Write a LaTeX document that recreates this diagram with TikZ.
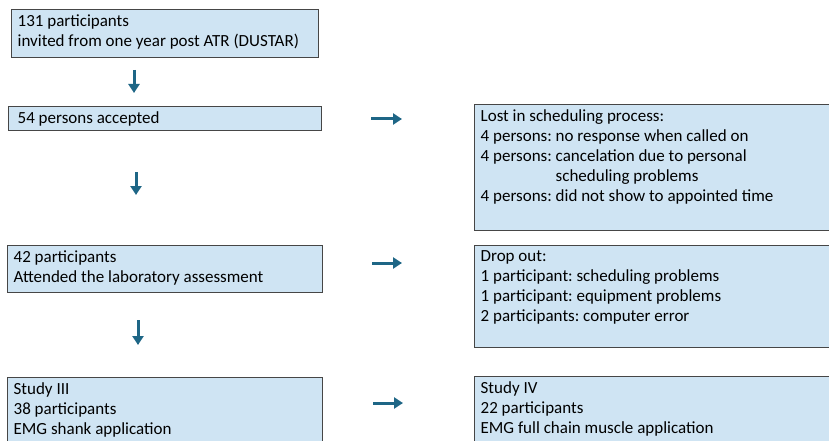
\documentclass[tikz,border=0pt]{standalone}
\usepackage{fontspec}
\setmainfont{Carlito}
\usetikzlibrary{arrows.meta,positioning}
\definecolor{flowfill}{RGB}{207, 228, 243}
\definecolor{flowline}{RGB}{70, 70, 70}
\definecolor{flowteal}{RGB}{30, 102, 134}
\frenchspacing

\begin{document}
\begin{tikzpicture}[x=1pt, y=-1pt,
        box/.style={rectangle, draw=flowline, line width=1.3pt, fill=flowfill, anchor=north west, inner xsep=6pt, inner ysep=5pt, font=\fontsize{17}{20}\selectfont},
        arrow/.style={-{Triangle[length=9pt, width=11pt]}, line width=3pt, color=flowteal}
    ]
        \useasboundingbox (0,0) rectangle (829,441);
        \clip (0,0) rectangle (829,441);
        % left column
        \node[box] (inv) at (11,9) {\parbox[t][38pt][t]{295pt}{131 participants\\ invited from one year post ATR (DUSTAR)}};
        \node[box, inner xsep=9pt] (acc) at (8,106) {\parbox[t][14pt][t]{295pt}{54 persons accepted}};
        \node[box] (att) at (7,245) {\parbox[t][37pt][t]{303pt}{42 participants\\ Attended the laboratory assessment}};
        \node[box] (st3) at (7,377) {\parbox[t][80pt][t]{303pt}{Study III\\ 38 participants\\ EMG shank application}};
        % right column
        \node[box] (lost) at (474,104) {\parbox[t][116pt][t]{380pt}{Lost in scheduling process:\\ 4 persons: no response when called on\\ 4 persons: cancelation due to personal\\ \phantom{4 persons: }scheduling problems\\ 4 persons: did not show to appointed time}};
        \node[box] (drop) at (474,245) {\parbox[t][92pt][t]{380pt}{Drop out:\\ 1 participant: scheduling problems\\ 1 participant: equipment problems\\ 2 participants: computer error}};
        \node[box] (st4) at (474,376) {\parbox[t][80pt][t]{380pt}{Study IV\\ 22 participants\\ EMG full chain muscle application}};
        % arrows
        \coordinate (d1a) at (134,70);  \coordinate (d1b) at (134,93);
        \coordinate (d2a) at (136,172); \coordinate (d2b) at (136,195);
        \coordinate (d3a) at (138,320); \coordinate (d3b) at (138,345);
        \coordinate (r1a) at (371,119); \coordinate (r1b) at (402,119);
        \coordinate (r2a) at (372,263); \coordinate (r2b) at (402,263);
        \coordinate (r3a) at (373,403); \coordinate (r3b) at (403,403);
        \draw[arrow] (d1a) -- (d1b);
        \draw[arrow] (d2a) -- (d2b);
        \draw[arrow] (d3a) -- (d3b);
        \draw[arrow] (r1a) -- (r1b);
        \draw[arrow] (r2a) -- (r2b);
        \draw[arrow] (r3a) -- (r3b);
    \end{tikzpicture}
\end{document}
